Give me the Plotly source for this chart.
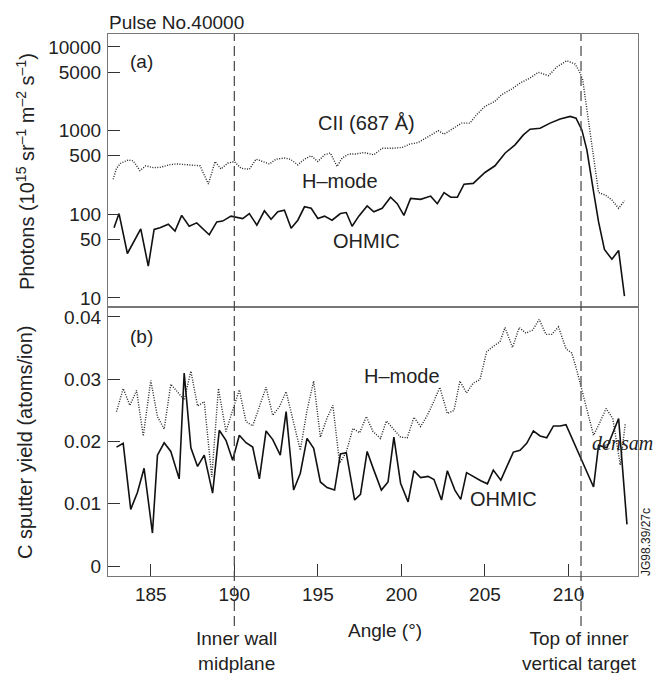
import plotly.graph_objects as go

# ---------------- data ----------------
# Panel (a): photon flux (log scale)
cii_angle = [182.75, 182.95, 183.2, 183.65, 183.95, 184.35, 184.7, 185.15, 185.55, 186.15,
             186.55, 187.15, 187.95, 188.45, 188.85, 189.2, 189.6, 190.0, 190.4, 190.9,
             191.3, 191.7, 192.1, 192.5, 193.0, 193.35, 193.8, 194.2, 194.6, 195.0,
             195.4, 195.75, 196.15, 196.45, 196.85, 197.25, 197.75, 198.35, 198.85, 199.55,
             200.05, 200.5, 201.0, 201.55, 202.2, 202.55, 203.05, 203.6, 204.1, 204.5,
             205.0, 205.6, 206.0, 206.6, 207.1, 207.7, 208.2, 208.8, 209.3, 209.9,
             210.4, 210.65, 210.85, 211.1, 211.5, 211.8, 212.2, 212.6, 213.0, 213.35]
cii_hmode = [262, 355, 408, 446, 435, 333, 380, 361, 364, 392,
             400, 392, 380, 230, 427, 348, 408, 427, 355, 345,
             456, 427, 400, 456, 470, 456, 390, 456, 500, 427,
             515, 540, 373, 470, 525, 525, 547, 515, 616, 616,
             630, 690, 720, 833, 1000, 905, 1037, 1230, 1230, 1550,
             1950, 2240, 2690, 3140, 3700, 4260, 4980, 4540, 5760, 6850,
             6250, 5110, 4070, 1780, 446, 182, 170, 148, 118, 145]

ohm_a_angle = [182.8, 183.1, 183.6, 184.4, 184.85, 185.2, 185.55, 186.05, 186.45, 186.85,
               187.3, 187.75, 188.5, 188.95, 189.3, 189.8, 190.5, 190.9, 191.35, 191.8,
               192.2, 192.6, 193.0, 193.4, 193.8, 194.2, 194.6, 195.0, 195.4, 195.85,
               196.35, 196.7, 197.05, 197.45, 197.95, 198.35, 198.85, 199.35, 199.75, 200.15,
               200.55, 201.15, 201.75, 202.15, 202.55, 202.95, 203.35, 203.75, 204.3, 205.0,
               205.6, 206.2, 206.8, 207.3, 207.7, 208.3, 208.9, 209.5, 210.1, 210.45,
               210.8, 211.1, 211.5, 211.8, 212.15, 212.6, 213.0, 213.35]
ohm_a = [69, 102, 34, 67, 24, 66, 69, 76, 63, 97,
         72, 79, 57, 81, 83, 95, 89, 102, 74, 110,
         87, 107, 112, 68, 85, 123, 118, 89, 95, 85,
         102, 105, 72, 95, 126, 107, 118, 160, 134, 97,
         155, 151, 165, 134, 182, 160, 160, 229, 234, 316,
         380, 537, 676, 890, 1040, 1070, 1230, 1380, 1480, 1410,
         1020, 590, 187, 81, 38, 29, 37, 10.5]

# Panel (b): C sputter yield
hm_b_angle = [182.95, 183.35, 183.75, 184.15, 184.55, 185.0, 185.4, 185.8, 186.2, 186.6,
              187.0, 187.4, 187.8, 188.2, 188.65, 189.05, 189.5, 189.9, 190.3, 190.7,
              191.1, 191.5, 191.9, 192.3, 192.7, 193.1, 193.55, 193.95, 194.35, 194.75,
              195.15, 195.55, 195.9, 196.3, 196.7, 197.1, 197.5, 197.9, 198.3, 198.75,
              199.1, 199.5, 199.95, 200.35, 200.75, 201.15, 201.55, 201.95, 202.3, 202.75,
              203.15, 203.5, 203.9, 204.3, 204.7, 205.1, 205.5, 205.9, 206.2, 206.65,
              207.05, 207.45, 207.85, 208.25, 208.65, 209.0, 209.4, 209.85, 210.2, 210.5,
              210.85, 211.2, 211.5, 211.85, 212.25, 212.65, 213.1, 213.4]
hm_b = [0.0248, 0.0285, 0.0258, 0.0282, 0.0209, 0.0298, 0.0240, 0.0220, 0.0292, 0.0280,
        0.0267, 0.0313, 0.0257, 0.0264, 0.0143, 0.0285, 0.0216, 0.0250, 0.0283, 0.0232,
        0.0225, 0.0256, 0.0287, 0.0242, 0.0256, 0.0280, 0.0230, 0.0186, 0.0250, 0.0297,
        0.0207, 0.0238, 0.0258, 0.0165, 0.0183, 0.0221, 0.0214, 0.0240, 0.0216, 0.0205,
        0.0233, 0.0221, 0.0207, 0.0206, 0.0239, 0.0224, 0.0242, 0.0265, 0.0287, 0.0245,
        0.0250, 0.0297, 0.0278, 0.0294, 0.0299, 0.0344, 0.0353, 0.0360, 0.0383, 0.0351,
        0.0383, 0.0374, 0.0379, 0.0396, 0.0372, 0.0372, 0.0384, 0.0349, 0.0342, 0.0314,
        0.0277, 0.0240, 0.0210, 0.0229, 0.0253, 0.0237, 0.0162, 0.0229]

ohm_b_angle = [182.95, 183.35, 183.8, 184.2, 184.6, 185.1, 185.4, 185.8, 186.2, 186.7,
               187.0, 187.4, 187.8, 188.2, 188.7, 189.1, 189.5, 189.9, 190.3, 190.7,
               191.1, 191.5, 191.9, 192.3, 192.75, 193.1, 193.55, 193.95, 194.35, 194.75,
               195.15, 195.55, 196.0, 196.35, 196.7, 197.2, 197.55, 197.95, 198.35, 198.8,
               199.2, 199.55, 199.95, 200.4, 200.75, 201.15, 201.6, 201.95, 202.4, 202.75,
               203.2, 203.55, 203.9, 204.35, 204.75, 205.15, 205.5, 205.95, 206.3, 206.7,
               207.1, 207.5, 207.9, 208.3, 208.7, 209.1, 209.5, 209.85, 211.5, 211.8,
               212.3, 213.0, 213.5]
ohm_b = [0.0191, 0.0197, 0.0091, 0.0118, 0.0157, 0.0053, 0.0178, 0.0198, 0.0184, 0.0140,
         0.0310, 0.0190, 0.0160, 0.0178, 0.0117, 0.0218, 0.0202, 0.0170, 0.0210, 0.0198,
         0.0191, 0.0140, 0.0217, 0.0203, 0.0178, 0.0248, 0.0122, 0.0149, 0.0205, 0.0189,
         0.0135, 0.0126, 0.0122, 0.0180, 0.0182, 0.0106, 0.0115, 0.0184, 0.0154, 0.0122,
         0.0135, 0.0207, 0.0133, 0.0103, 0.0153, 0.0142, 0.0144, 0.0139, 0.0106, 0.0153,
         0.0122, 0.0107, 0.0150, 0.0143, 0.0137, 0.0132, 0.0154, 0.0138, 0.0159, 0.0183,
         0.0186, 0.0197, 0.0217, 0.0209, 0.0206, 0.0225, 0.0225, 0.0227, 0.0127, 0.0194,
         0.0190, 0.0237, 0.0067]

x_ticks = [185, 190, 195, 200, 205, 210]
ya_ticks = [10, 50, 100, 500, 1000, 5000, 10000]
yb_ticks = [0, 0.01, 0.02, 0.03, 0.04]
yb_ticktext = ["0", "0.01", "0.02", "0.03", "0.04"]
marker_angles = [190, 210.75]

# ---------------- figure ----------------
FONT = "Liberation Sans, Arial, Helvetica, sans-serif"
TXT = "#222222"
W, H = 669, 673
ML, MR, MT, MB = 108, 31, 34, 97
PW, PH = W - ML - MR, H - MT - MB


def px(x):
    return (x - ML) / PW


def py(y):
    return (H - MB - y) / PH


split = py(307)

fig = go.Figure()
fig.add_trace(go.Scatter(x=cii_angle, y=cii_hmode, mode="lines", xaxis="x2", yaxis="y2",
                         line=dict(color="#222", width=1.4, dash="1px,1.5px"), showlegend=False))
fig.add_trace(go.Scatter(x=ohm_a_angle, y=ohm_a, mode="lines", xaxis="x2", yaxis="y2",
                         line=dict(color="#111", width=1.6), showlegend=False))
fig.add_trace(go.Scatter(x=hm_b_angle, y=hm_b, mode="lines", xaxis="x", yaxis="y",
                         line=dict(color="#222", width=1.4, dash="1px,1.5px"), showlegend=False))
fig.add_trace(go.Scatter(x=ohm_b_angle, y=ohm_b, mode="lines", xaxis="x", yaxis="y",
                         line=dict(color="#111", width=1.6), showlegend=False))

xr = [182.44, 214.16]
axis_common = dict(showline=True, linecolor="#777", linewidth=1.3, mirror=True,
                   showgrid=False, zeroline=False, ticks="inside", ticklen=12,
                   tickcolor="#333", tickwidth=1.2,
                   tickfont=dict(family=FONT, size=19, color=TXT))

fig.update_layout(
    width=W, height=H,
    margin=dict(l=ML, r=MR, t=MT, b=MB),
    paper_bgcolor="white", plot_bgcolor="white",
    font=dict(family=FONT, size=19, color=TXT),
    xaxis=dict(domain=[0, 1], anchor="y", range=xr, tickvals=x_ticks,
               ticklabelstandoff=1, **axis_common),
    yaxis=dict(domain=[0, split], anchor="x", range=[-0.0016, 0.0416],
               tickvals=yb_ticks, ticktext=yb_ticktext, ticklabelstandoff=2, **axis_common),
    xaxis2=dict(domain=[0, 1], anchor="y2", range=xr, matches="x", showticklabels=False,
                **{k: v for k, v in axis_common.items() if k != "ticks"}, ticks=""),
    yaxis2=dict(domain=[split, 1], anchor="x2", type="log", range=[0.892, 4.155],
                tickvals=ya_ticks, ticktext=[str(v) for v in ya_ticks],
                ticklabelstandoff=2, **axis_common),
)

# dashed marker lines
for a in marker_angles:
    fig.add_shape(type="line", xref="x", yref="paper", x0=a, x1=a, y0=py(626), y1=1,
                  line=dict(color="#444", width=1.2, dash="10px,5px"))


def ann(text, x, y, size=19, xanchor="center", **kw):
    fam = kw.pop("family", FONT)
    fig.add_annotation(text=text, x=px(x), y=py(y), xref="paper", yref="paper",
                       xanchor=xanchor, yanchor="middle",
                       showarrow=False, font=dict(family=fam, size=size, color=TXT), **kw)


ann("Pulse No.40000", 107, 23, size=19, xanchor="left")
ann("(a)", 141, 62)
ann("CII (687 Å)", 366, 123, size=20)
ann("H–mode", 340, 181, size=20)
ann("OHMIC", 366, 241, size=20)
ann("(b)", 141, 336)
ann("H–mode", 402, 376, size=20)
ann("OHMIC", 504, 499, size=20)
ann("<i>densam</i>", 622, 443, size=20, family="Liberation Serif, Times New Roman, serif")
ann("JG98.39/27c", 646, 542, size=12, textangle=-90)
ann("Angle (°)", 385, 630, size=19)
ann("Inner wall<br>midplane", 236, 651, size=19)
ann("Top of inner<br>vertical target", 579, 651, size=19)
ann("Photons (10<sup>15</sup> sr<sup>–1</sup> m<sup>–2</sup> s<sup>–1</sup>)", 25, 172, size=20,
    textangle=-90)
ann("C sputter yield (atoms/ion)", 25, 443, size=20, textangle=-90)

fig.write_html("out.html")
